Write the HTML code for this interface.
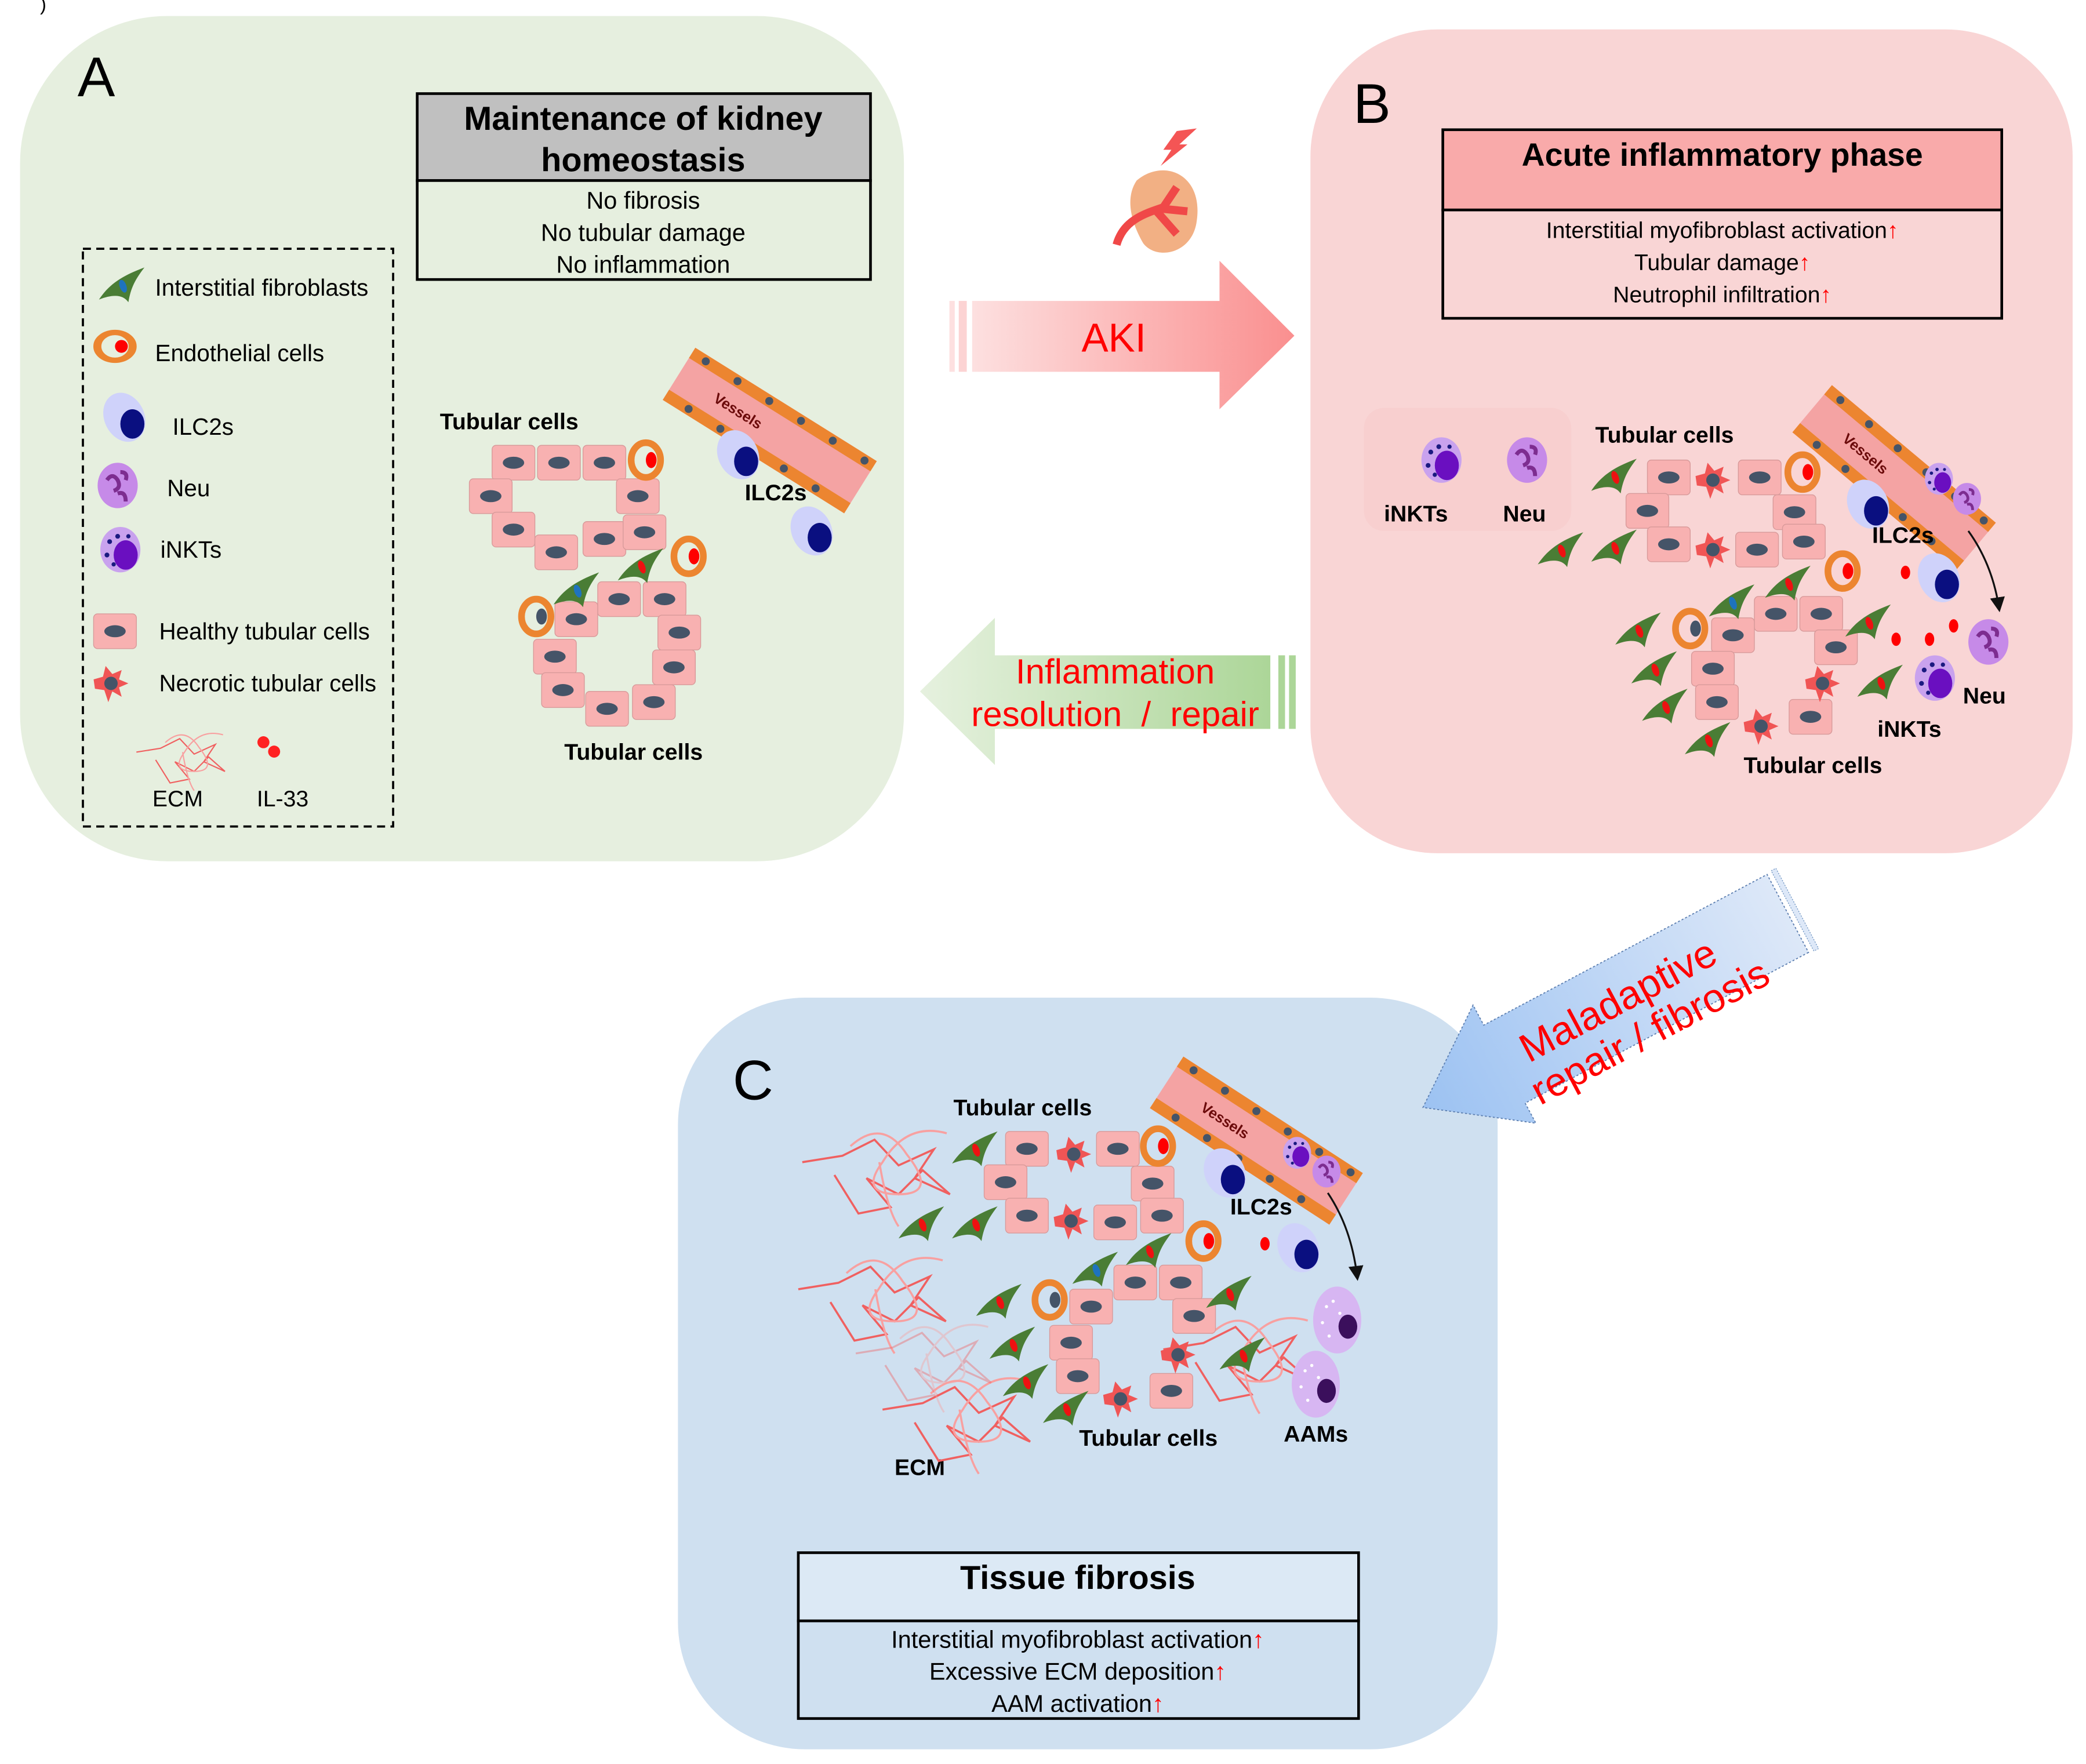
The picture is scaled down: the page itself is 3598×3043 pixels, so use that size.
<!DOCTYPE html>
<html><head><meta charset="utf-8"><style>html,body{margin:0;padding:0;background:#fff}svg{display:block}</style></head>
<body>
<svg width="3598" height="3043" viewBox="0 0 1560 1319" preserveAspectRatio="none" xmlns="http://www.w3.org/2000/svg" font-family="Liberation Sans, sans-serif">
<defs>
<linearGradient id="gAki" x1="0" x2="1" y1="0" y2="0"><stop offset="0" stop-color="#fde0e0"/><stop offset="1" stop-color="#fa8f8f"/></linearGradient>
<linearGradient id="gInf" x1="0" x2="1" y1="0" y2="0"><stop offset="0" stop-color="#e6f1df"/><stop offset="1" stop-color="#acd698"/></linearGradient>
<linearGradient id="gMal" x1="0" x2="1" y1="0" y2="0"><stop offset="0" stop-color="#dde8f8"/><stop offset="1" stop-color="#9cc2f2"/></linearGradient>
<g id="cell"><rect x="0" y="0" width="32" height="26" rx="3" fill="#f8b1b1" stroke="#d89a9a" stroke-width="0.6"/><ellipse cx="16" cy="13" rx="8" ry="4.5" fill="#455468"/></g>
<g id="nec"><path d="M0,10 L7,8 L9,0 L14,6 L21,3 L19,10 L26,13 L19,16 L21,23 L14,19 L11,27 L8,18 L1,17 Z" fill="#f05555"/><circle cx="13" cy="13" r="5" fill="#455468"/></g>
<g id="fib"><path d="M0,24 C8,12 18,6 34,0 C28,8 24,14 22,26 C18,20 10,20 0,24 Z" fill="#4a7d35"/><ellipse cx="18" cy="14" rx="2.5" ry="5" fill="#ee1111" transform="rotate(-20 18 14)"/></g>
<g id="fibb"><path d="M0,24 C8,12 18,6 34,0 C28,8 24,14 22,26 C18,20 10,20 0,24 Z" fill="#4a7d35"/><ellipse cx="18" cy="14" rx="2.5" ry="5" fill="#1e73be" transform="rotate(-20 18 14)"/></g>
<g id="endo"><ellipse cx="0" cy="0" rx="11" ry="13" fill="none" stroke="#ec8530" stroke-width="5"/><ellipse cx="4" cy="0" rx="4" ry="6" fill="#f00"/></g>
<g id="endoL"><ellipse cx="0" cy="0" rx="11" ry="13" fill="none" stroke="#ec8530" stroke-width="5"/><ellipse cx="4" cy="0" rx="4" ry="6" fill="#455468"/></g>
<g id="ilc"><ellipse cx="0" cy="0" rx="15" ry="19" fill="#cfd2fa" transform="rotate(-25)"/><ellipse cx="6" cy="5" rx="9" ry="11" fill="#0a0f80"/></g>
<g id="neu"><ellipse cx="0" cy="0" rx="15" ry="17" fill="#c68ae8"/><path d="M-8,-4 q4,-6 8,0 q3,6 -3,8 M2,-10 q6,0 4,6 M0,6 q6,-2 6,6" stroke="#7d2d90" stroke-width="3" fill="none"/></g>
<g id="inkt"><ellipse cx="0" cy="0" rx="15" ry="17" fill="#c9a2ee"/><ellipse cx="4" cy="4" rx="9" ry="11" fill="#6a0fc0"/><circle cx="-8" cy="-6" r="1.8" fill="#1a1a80"/><circle cx="-2" cy="-10" r="1.8" fill="#1a1a80"/><circle cx="-10" cy="4" r="1.8" fill="#1a1a80"/><circle cx="6" cy="-10" r="1.6" fill="#1a1a80"/><circle cx="-5" cy="11" r="1.6" fill="#1a1a80"/></g>
<g id="aam"><ellipse cx="0" cy="0" rx="18" ry="25" fill="#d7b6f2"/><ellipse cx="8" cy="5" rx="7" ry="9" fill="#3b0f5c"/><circle cx="-8" cy="-10" r="1.2" fill="#fff"/><circle cx="-3" cy="-14" r="1.2" fill="#fff"/><circle cx="-11" cy="2" r="1.2" fill="#fff"/><circle cx="-6" cy="12" r="1.2" fill="#fff"/><circle cx="2" cy="-5" r="1.2" fill="#fff"/></g>
<g id="ecm" fill="none" stroke-width="1.3"><path d="M0,20 L25,16 L45,6 L60,22 L82,12 L70,30 L92,40 L75,25 L60,40 L40,30 L55,48 L35,52 L20,28" stroke="#f06060"/><path d="M30,10 q20,-18 35,5 q20,25 -5,25 q-25,0 -10,-20 q15,-25 40,-18" stroke="#f8a0a0"/><path d="M48,20 q5,30 12,40" stroke="#f8a0a0"/></g>
<g id="vessel"><rect x="0" y="0" width="160" height="46" fill="#f4a3a3"/><rect x="0" y="0" width="160" height="9" fill="#ec8530"/><rect x="0" y="37" width="160" height="9" fill="#ec8530"/><g fill="#455468"><circle cx="12" cy="4.5" r="3"/><circle cx="40" cy="4.5" r="3"/><circle cx="68" cy="4.5" r="3"/><circle cx="96" cy="4.5" r="3"/><circle cx="124" cy="4.5" r="3"/><circle cx="152" cy="4.5" r="3"/><circle cx="20" cy="41.5" r="3"/><circle cx="48" cy="41.5" r="3"/><circle cx="76" cy="41.5" r="3"/><circle cx="104" cy="41.5" r="3"/><circle cx="132" cy="41.5" r="3"/></g><text x="32" y="27" font-size="11" font-weight="bold" fill="#6b0a0a">Vessels</text></g>
<marker id="ah" markerWidth="8" markerHeight="8" refX="6" refY="4" orient="auto"><path d="M0,0 L8,4 L0,8 Z" fill="#111"/></marker>
</defs>
<text x="30" y="8" font-size="14">)</text>
<rect x="15" y="12" width="661" height="632" rx="110" fill="#e6efdf"/>
<rect x="980" y="22" width="570" height="616" rx="95" fill="#f9d5d5"/>
<rect x="507" y="746" width="613" height="562" rx="95" fill="#cfe0f0"/>
<text x="58" y="72" font-size="42">A</text>
<text x="1012" y="92" font-size="42">B</text>
<text x="548" y="822" font-size="42">C</text>

<rect x="312" y="70" width="339" height="65" fill="#c0c0c0" stroke="#000" stroke-width="2"/>
<rect x="312" y="135" width="339" height="74" fill="#e6efdf" stroke="#000" stroke-width="2"/>
<text x="481" y="97" font-size="25" font-weight="bold" text-anchor="middle">Maintenance of kidney</text>
<text x="481" y="128" font-size="25" font-weight="bold" text-anchor="middle">homeostasis</text>
<g font-size="18" text-anchor="middle"><text x="481" y="156">No fibrosis</text><text x="481" y="180">No tubular damage</text><text x="481" y="204">No inflammation</text></g>

<rect x="62" y="186" width="232" height="432" fill="none" stroke="#000" stroke-width="1.6" stroke-dasharray="6,4"/>
<use href="#fibb" x="74" y="200"/>
<text x="116" y="221" font-size="17.5">Interstitial fibroblasts</text>
<g transform="translate(86,259) scale(1.2,0.8)"><use href="#endo"/></g>
<text x="116" y="270" font-size="17.5">Endothelial cells</text>
<g transform="translate(93,312)"><use href="#ilc"/></g>
<text x="129" y="325" font-size="17.5">ILC2s</text>
<use href="#neu" x="88" y="363"/>
<text x="125" y="371" font-size="17.5">Neu</text>
<use href="#inkt" x="90" y="411"/>
<text x="120" y="417" font-size="17.5">iNKTs</text>
<use href="#cell" x="70" y="459"/>
<text x="119" y="478" font-size="17.5">Healthy tubular cells</text>
<use href="#nec" x="70" y="498"/>
<text x="119" y="517" font-size="17.5">Necrotic tubular cells</text>
<use href="#ecm" transform="translate(102,548) scale(0.72)"/>
<circle cx="197" cy="555" r="4.5" fill="#f22"/><circle cx="205" cy="562" r="4.5" fill="#f22"/>
<text x="114" y="603" font-size="17">ECM</text>
<text x="192" y="603" font-size="17">IL-33</text>

<text x="329" y="321" font-size="17" font-weight="bold">Tubular cells</text>
<text x="422" y="568" font-size="17" font-weight="bold">Tubular cells</text>
<text x="557" y="374" font-size="17" font-weight="bold">ILC2s</text>
<use href="#vessel" transform="translate(520,260) rotate(32)"/>
<use href="#cell" x="368" y="333"/><use href="#cell" x="402" y="333"/><use href="#cell" x="436" y="333"/>
<use href="#cell" x="351" y="358"/><use href="#cell" x="461" y="358"/>
<use href="#cell" x="368" y="383"/><use href="#cell" x="436" y="390"/><use href="#cell" x="466" y="385"/>
<use href="#cell" x="400" y="400"/>
<use href="#cell" x="447" y="435"/><use href="#cell" x="481" y="435"/><use href="#cell" x="415" y="450"/>
<use href="#cell" x="492" y="460"/><use href="#cell" x="399" y="478"/><use href="#cell" x="488" y="486"/>
<use href="#cell" x="405" y="503"/><use href="#cell" x="438" y="517"/><use href="#cell" x="473" y="512"/>
<use href="#endo" x="483" y="344"/><use href="#endo" x="515" y="416"/><use href="#endoL" x="401" y="461"/>
<use href="#fibb" x="414" y="428"/><use href="#fib" x="462" y="410"/>
<use href="#ilc" x="552" y="340"/><use href="#ilc" x="607" y="397"/>

<path d="M880,98 L895,96 L882,108 L888,108 L868,124 L876,112 L870,112 Z" fill="#f45555"/>
<path d="M850,135 C870,118 900,130 895,165 C892,190 865,195 855,182 C848,170 840,150 850,135 Z" fill="#f2b084"/>
<path d="M835,183 C840,165 855,160 870,155 L880,140 M865,158 L880,175 M868,156 L888,158" stroke="#f04848" stroke-width="6" fill="none"/>
<rect x="710" y="225" width="4" height="53" fill="#fde0e0"/><rect x="717" y="225" width="6" height="53" fill="#fcd3d3"/>
<path d="M727,225 L912,225 L912,195 L968,251 L912,306 L912,278 L727,278 Z" fill="url(#gAki)"/>
<text x="833" y="263" font-size="30" fill="#f00" text-anchor="middle">AKI</text>

<path d="M688,517 L744,462 L744,490 L950,490 L950,545 L744,545 L744,572 Z" fill="url(#gInf)"/>
<rect x="956" y="490" width="5" height="55" fill="#acd698"/><rect x="964" y="490" width="5" height="55" fill="#acd698"/>
<text x="834" y="511" font-size="26" fill="#f00" text-anchor="middle">Inflammation</text>
<text x="834" y="543" font-size="26" fill="#f00" text-anchor="middle" xml:space="preserve">resolution  /  repair</text>

<rect x="1079" y="97" width="418" height="60" fill="#f9aaaa" stroke="#000" stroke-width="2"/>
<rect x="1079" y="157" width="418" height="81" fill="#f9d5d5" stroke="#000" stroke-width="2"/>
<text x="1288" y="124" font-size="24" font-weight="bold" text-anchor="middle">Acute inflammatory phase</text>
<g font-size="17" text-anchor="middle"><text x="1288" y="178">Interstitial myofibroblast activation<tspan fill="#f00">↑</tspan></text><text x="1288" y="202">Tubular damage<tspan fill="#f00">↑</tspan></text><text x="1288" y="226">Neutrophil infiltration<tspan fill="#f00">↑</tspan></text></g>

<rect x="1020" y="305" width="155" height="92" rx="15" fill="#f7cccc" opacity="0.6"/>
<use href="#inkt" x="1078" y="344"/><use href="#neu" x="1142" y="344"/>
<text x="1035" y="390" font-size="17" font-weight="bold">iNKTs</text>
<text x="1124" y="390" font-size="17" font-weight="bold">Neu</text>
<text x="1193" y="331" font-size="17" font-weight="bold">Tubular cells</text>
<use href="#vessel" transform="translate(1370,288) rotate(40)"/>
<use href="#inkt" transform="translate(1450,358) scale(0.7)"/><use href="#neu" transform="translate(1471,373) scale(0.7)"/>
<use href="#cell" x="1232" y="344"/><use href="#nec" x="1268" y="346"/><use href="#cell" x="1300" y="344"/>
<use href="#cell" x="1216" y="369"/><use href="#cell" x="1326" y="370"/>
<use href="#cell" x="1232" y="394"/><use href="#nec" x="1268" y="398"/><use href="#cell" x="1298" y="398"/><use href="#cell" x="1333" y="392"/>
<use href="#cell" x="1312" y="446"/><use href="#cell" x="1346" y="446"/><use href="#cell" x="1280" y="462"/>
<use href="#cell" x="1357" y="471"/><use href="#cell" x="1265" y="487"/><use href="#cell" x="1268" y="512"/><use href="#cell" x="1338" y="523"/>
<use href="#nec" x="1350" y="498"/><use href="#nec" x="1304" y="530"/>
<use href="#endo" x="1348" y="353"/><use href="#endo" x="1378" y="427"/><use href="#endoL" x="1264" y="470"/>
<use href="#fib" x="1190" y="343"/><use href="#fib" x="1150" y="398"/><use href="#fib" x="1190" y="396"/>
<use href="#fib" x="1320" y="423"/><use href="#fibb" x="1278" y="437"/><use href="#fib" x="1208" y="458"/>
<use href="#fib" x="1380" y="452"/><use href="#fib" x="1220" y="487"/><use href="#fib" x="1228" y="515"/>
<use href="#fib" x="1389" y="497"/><use href="#fib" x="1260" y="540"/>
<use href="#ilc" x="1397" y="377"/><use href="#ilc" x="1450" y="432"/>
<g fill="#f00"><ellipse cx="1425" cy="428" rx="3.5" ry="5"/><ellipse cx="1418" cy="478" rx="3.5" ry="5"/><ellipse cx="1443" cy="478" rx="3.5" ry="5"/><ellipse cx="1461" cy="468" rx="3.5" ry="5"/></g>
<use href="#neu" x="1487" y="480"/><use href="#inkt" x="1447" y="507"/>
<path d="M1472,397 C1485,415 1492,435 1495,455" stroke="#111" stroke-width="1.4" fill="none" marker-end="url(#ah)"/>
<text x="1468" y="526" font-size="17" font-weight="bold">Neu</text>
<text x="1404" y="551" font-size="17" font-weight="bold">iNKTs</text>
<text x="1304" y="578" font-size="17" font-weight="bold">Tubular cells</text>
<text x="1400" y="406" font-size="17" font-weight="bold">ILC2s</text>

<g transform="translate(1337,683) rotate(152)">
<rect x="-8" y="-34" width="4" height="68" fill="#dde8f8" stroke="#7a9cc6" stroke-width="0.6" stroke-dasharray="1,1"/>
<path d="M0,-33 L240,-33 L240,-50 L309,0 L240,50 L240,33 L0,33 Z" fill="url(#gMal)" stroke="#5d7fb0" stroke-width="0.8" stroke-dasharray="1.5,1.5"/>
</g>
<g transform="translate(1222,760) rotate(-28)" fill="#f00" font-size="30" text-anchor="middle">
<text x="-5" y="-6">Maladaptive</text><text x="5" y="26">repair / fibrosis</text></g>

<text x="713" y="834" font-size="17" font-weight="bold">Tubular cells</text>
<text x="807" y="1081" font-size="17" font-weight="bold">Tubular cells</text>
<text x="669" y="1103" font-size="17" font-weight="bold">ECM</text>
<text x="960" y="1078" font-size="17" font-weight="bold">AAMs</text>
<text x="920" y="908" font-size="17" font-weight="bold">ILC2s</text>
<use href="#vessel" transform="translate(885,790) rotate(33)"/>
<use href="#inkt" transform="translate(970,862) scale(0.7)"/><use href="#neu" transform="translate(992,876) scale(0.7)"/>
<use href="#ecm" transform="translate(600,845) scale(1.2)"/>
<use href="#ecm" transform="translate(597,940) scale(1.2)"/>
<use href="#ecm" transform="translate(660,1030) scale(1.2)"/>
<use href="#ecm" transform="translate(870,985) scale(1.2)"/>
<use href="#ecm" transform="translate(640,990) scale(1.1)" opacity="0.4"/>
<use href="#cell" x="752" y="846"/><use href="#nec" x="790" y="850"/><use href="#cell" x="820" y="846"/>
<use href="#cell" x="736" y="871"/><use href="#cell" x="846" y="872"/>
<use href="#cell" x="752" y="896"/><use href="#nec" x="788" y="900"/><use href="#cell" x="818" y="901"/><use href="#cell" x="853" y="896"/>
<use href="#cell" x="833" y="946"/><use href="#cell" x="867" y="946"/><use href="#cell" x="800" y="964"/>
<use href="#cell" x="877" y="971"/><use href="#cell" x="785" y="991"/><use href="#cell" x="790" y="1016"/><use href="#cell" x="860" y="1027"/>
<use href="#nec" x="868" y="1000"/><use href="#nec" x="825" y="1033"/>
<use href="#endo" x="866" y="857"/><use href="#endo" x="900" y="928"/><use href="#endoL" x="785" y="972"/>
<use href="#fib" x="712" y="846"/><use href="#fib" x="672" y="902"/><use href="#fib" x="712" y="902"/>
<use href="#fib" x="842" y="922"/><use href="#fibb" x="802" y="936"/><use href="#fib" x="730" y="960"/>
<use href="#fib" x="902" y="954"/><use href="#fib" x="740" y="992"/><use href="#fib" x="750" y="1020"/>
<use href="#fib" x="912" y="1000"/><use href="#fib" x="780" y="1040"/>
<use href="#ilc" x="916" y="877"/><use href="#ilc" x="971" y="933"/>
<ellipse cx="946" cy="930" rx="3.5" ry="5" fill="#f00"/>
<use href="#aam" x="1000" y="987"/><use href="#aam" x="984" y="1035"/>
<path d="M993,892 C1005,910 1012,930 1015,955" stroke="#111" stroke-width="1.4" fill="none" marker-end="url(#ah)"/>

<rect x="597" y="1161" width="419" height="51" fill="#dce9f5" stroke="#000" stroke-width="2"/>
<rect x="597" y="1212" width="419" height="73" fill="#cfe0f0" stroke="#000" stroke-width="2"/>
<text x="806" y="1188" font-size="25" font-weight="bold" text-anchor="middle">Tissue fibrosis</text>
<g font-size="18" text-anchor="middle"><text x="806" y="1232">Interstitial myofibroblast activation<tspan fill="#f00">↑</tspan></text><text x="806" y="1256">Excessive ECM deposition<tspan fill="#f00">↑</tspan></text><text x="806" y="1280">AAM activation<tspan fill="#f00">↑</tspan></text></g>
</svg>
</body></html>
